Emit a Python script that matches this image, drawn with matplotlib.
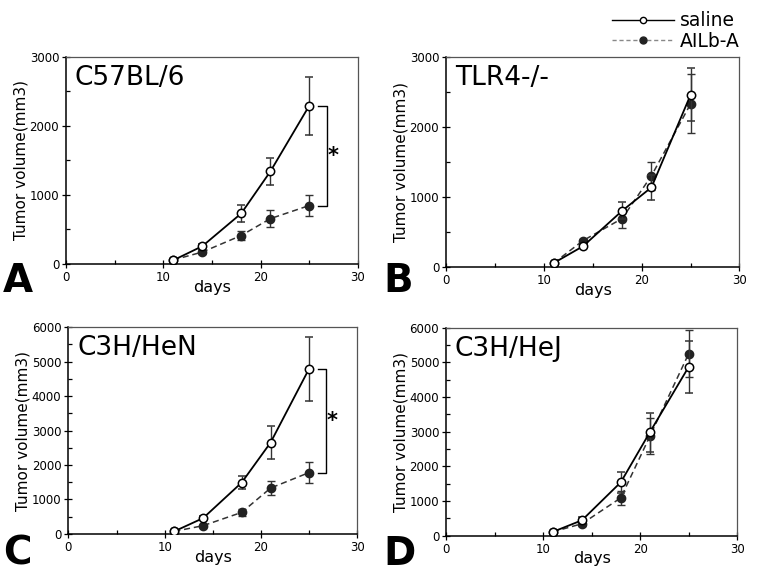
import matplotlib
matplotlib.use('Agg')
import matplotlib.pyplot as plt
from matplotlib.lines import Line2D
from matplotlib.ticker import MultipleLocator

# Data
days = [11, 14, 18, 21, 25]
strains = ['C57BL/6', 'TLR4-/-', 'C3H/HeN', 'C3H/HeJ']
panel_letters = ['A', 'B', 'C', 'D']

saline_a = [50, 255, 730, 1340, 2295]
saline_a_err = [15, 35, 120, 200, 420]
ailb_a = [55, 170, 410, 655, 845]
ailb_a_err = [15, 25, 65, 120, 155]

saline_b = [60, 300, 805, 1140, 2460]
saline_b_err = [15, 30, 120, 180, 380]
ailb_b = [60, 380, 695, 1305, 2330]
ailb_b_err = [15, 30, 140, 200, 420]

saline_c = [75, 460, 1490, 2650, 4790]
saline_c_err = [20, 60, 200, 490, 930]
ailb_c = [75, 240, 625, 1330, 1780]
ailb_c_err = [20, 40, 100, 200, 300]

saline_d = [110, 445, 1540, 2985, 4870]
saline_d_err = [25, 80, 300, 560, 750]
ailb_d = [110, 345, 1090, 2870, 5250]
ailb_d_err = [25, 70, 200, 520, 680]

saline = [saline_a, saline_b, saline_c, saline_d]
saline_err = [saline_a_err, saline_b_err, saline_c_err, saline_d_err]
ailb = [ailb_a, ailb_b, ailb_c, ailb_d]
ailb_err = [ailb_a_err, ailb_b_err, ailb_c_err, ailb_d_err]
ymax = [3000, 3000, 6000, 6000]
significant = [True, False, True, False]

plt.rcParams['font.family'] = 'DejaVu Sans'

fig = plt.figure(figsize=(7.6, 5.81), dpi=100)
positions = [
    [0.087, 0.546, 0.384, 0.356],
    [0.587, 0.540, 0.386, 0.362],
    [0.090, 0.081, 0.380, 0.356],
    [0.587, 0.078, 0.383, 0.358],
]
letter_pos = [(0.004, 0.483), (0.504, 0.483), (0.004, 0.014), (0.504, 0.014)]

for i in range(4):
    ax = fig.add_axes(positions[i])
    ax.errorbar(days, saline[i], yerr=saline_err[i], color='black', lw=1.3,
                marker='o', ms=6, mfc='white', mec='black', mew=1.1,
                capsize=3, elinewidth=1.0, ecolor='#333333', zorder=3)
    ax.errorbar(days, ailb[i], yerr=ailb_err[i], color='#333333', lw=1.1,
                ls=(0, (4, 2.5)), marker='o', ms=6, mfc='#222222', mec='#222222',
                capsize=3, elinewidth=1.0, ecolor='#333333', zorder=2)

    ax.set_xlim(0, 30)
    ax.set_ylim(0, ymax[i])
    ax.xaxis.set_major_locator(MultipleLocator(10))
    ax.xaxis.set_minor_locator(MultipleLocator(5))
    ax.yaxis.set_major_locator(MultipleLocator(1000))
    ax.yaxis.set_minor_locator(MultipleLocator(500))
    ax.tick_params(which='major', direction='inout', length=6, width=0.9,
                   labelsize=8.5, pad=2)
    ax.tick_params(which='minor', direction='in', length=3, width=0.9)
    ax.tick_params(top=False, right=False)
    for s in ['left', 'bottom']:
        ax.spines[s].set_linewidth(1.1)
    for s in ['top', 'right']:
        ax.spines[s].set_linewidth(0.9)
        ax.spines[s].set_color('#555555')

    ax.set_xlabel('days', fontsize=11.5, labelpad=-3)
    ax.set_ylabel('Tumor volume(mm3)', fontsize=11, labelpad=1)
    ax.text(0.03, 0.96, strains[i], transform=ax.transAxes, fontsize=19,
            va='top', ha='left')

    if significant[i]:
        y_top = saline[i][-1]
        y_bot = ailb[i][-1]
        ax.plot([25.9, 26.8, 26.8, 25.9], [y_top, y_top, y_bot, y_bot],
                color='black', lw=1.0, clip_on=False)
        ax.text(27.4, (y_top + y_bot) / 2, '*', fontsize=15, fontweight='bold',
                ha='center', va='center')

    fig.text(letter_pos[i][0], letter_pos[i][1], panel_letters[i], fontsize=28,
             fontweight='bold', ha='left', va='bottom')

# legend without error bars, as in the original
handles = [
    Line2D([], [], color='black', lw=1.0, marker='o', ms=4.5, mfc='white', mec='black'),
    Line2D([], [], color='#888888', lw=1.0, ls=(0, (3, 2)), marker='o', ms=5,
           mfc='#222222', mec='#222222'),
]
fig.legend(handles, ['saline', 'AILb-A'], loc='upper right',
           bbox_to_anchor=(0.995, 1.01), frameon=False, fontsize=13.5,
           handlelength=3.3, handletextpad=0.3, labelspacing=0.1)

fig.savefig('out.png', dpi=100)
